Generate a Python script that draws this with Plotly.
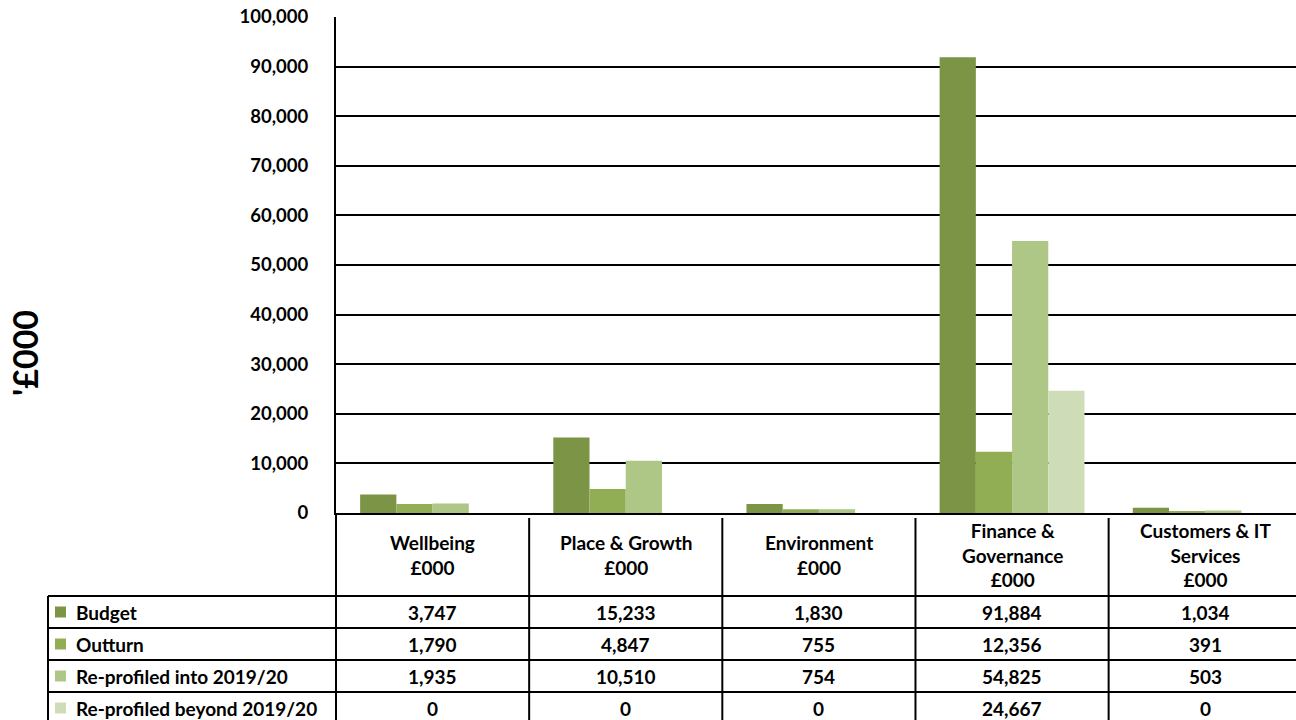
import plotly.graph_objects as go

# chart data
categories = ["Wellbeing", "Place & Growth", "Environment",
              "Finance & Governance", "Customers & IT Services"]
header_labels = ["Wellbeing<br>£000", "Place & Growth<br>£000", "Environment<br>£000",
                 "Finance &<br>Governance<br>£000", "Customers & IT<br>Services<br>£000"]
series_names = ["Budget", "Outturn", "Re-profiled into 2019/20", "Re-profiled beyond 2019/20"]
budget = [3747, 15233, 1830, 91884, 1034]
outturn = [1790, 4847, 755, 12356, 391]
reprofiled_into = [1935, 10510, 754, 54825, 503]
reprofiled_beyond = [0, 0, 0, 24667, 0]
series_values = [budget, outturn, reprofiled_into, reprofiled_beyond]
colors = ["#7b9445", "#92ae55", "#aec686", "#cfdcb8"]

FONT = "Lato"
W, H = 1296, 720
L, T, B = 336, 17, 207
x_range = [-0.5, 4.47]
plot_h = H - T - B
plot_w = W - L


def py(pix):
    # pixel row -> paper y
    return (H - B - pix) / plot_h


def px(pix):
    # pixel column -> paper x
    return (pix - L) / plot_w


def cx(v):
    # category position -> paper x
    return (v - x_range[0]) / (x_range[1] - x_range[0])


fig = go.Figure()

for name, vals, col in zip(series_names, series_values, colors):
    fig.add_trace(
        go.Bar(
            x=categories,
            y=vals,
            name=name,
            marker=dict(color=col, line=dict(width=0)),
        )
    )

shapes = []
line = dict(color="black", width=2)
bottom = py(730)

# table grid
row_tops = [596, 628, 660, 692]
for r in row_tops:
    shapes.append(dict(type="line", xref="paper", yref="paper",
                       x0=px(48), x1=1.02, y0=py(r), y1=py(r), line=line))
shapes.append(dict(type="line", xref="paper", yref="paper",
                   x0=px(48), x1=px(48), y0=py(596), y1=bottom, line=line))
shapes.append(dict(type="line", xref="paper", yref="paper",
                   x0=0, x1=0, y0=0, y1=bottom, line=line))
for i in range(1, len(categories)):
    xp = cx(i - 0.5)
    shapes.append(dict(type="line", xref="paper", yref="paper",
                       x0=xp, x1=xp, y0=py(518), y1=bottom, line=line))

annotations = []
tfont = dict(family=FONT, size=19, color="black", weight="bold")

# header row
for i, lab in enumerate(header_labels):
    annotations.append(dict(x=cx(i), y=py(554.5), xref="paper", yref="paper",
                            text=lab, showarrow=False, font=tfont,
                            xanchor="center", yanchor="middle"))

# data rows with legend keys
for k, (name, vals, col) in enumerate(zip(series_names, series_values, colors)):
    yc = py(row_tops[k] + 16)
    shapes.append(dict(type="rect", xref="paper", yref="paper",
                       x0=px(55), x1=px(66), y0=yc - 5.5 / plot_h, y1=yc + 5.5 / plot_h,
                       fillcolor=col, line=dict(width=0)))
    annotations.append(dict(x=px(74), y=yc, xref="paper", yref="paper",
                            text=name, showarrow=False, font=tfont,
                            xanchor="left", yanchor="middle"))
    for i, v in enumerate(vals):
        annotations.append(dict(x=cx(i), y=yc, xref="paper", yref="paper",
                                text=f"{v:,}", showarrow=False, font=tfont,
                                xanchor="center", yanchor="middle"))

# y axis title
annotations.append(dict(x=px(24), y=py(353), xref="paper", yref="paper",
                        text="'£000", textangle=-90, showarrow=False,
                        font=dict(family=FONT, size=34, color="black", weight="bold"),
                        xanchor="center", yanchor="middle"))

fig.update_layout(
    width=W,
    height=H,
    margin=dict(l=L, r=0, t=T, b=B),
    barmode="group",
    bargap=0.25,
    bargroupgap=0,
    showlegend=False,
    plot_bgcolor="white",
    paper_bgcolor="white",
    shapes=shapes,
    annotations=annotations,
    xaxis=dict(
        range=x_range,
        showticklabels=False,
        showgrid=False,
        showline=True,
        linecolor="black",
        linewidth=2,
        ticks="",
    ),
    yaxis=dict(
        range=[0, 100000],
        dtick=10000,
        tickformat=",",
        showgrid=True,
        gridcolor="black",
        gridwidth=2,
        showline=True,
        linecolor="black",
        linewidth=2,
        zeroline=False,
        ticks="",
        ticklabelstandoff=22,
        tickfont=dict(family=FONT, size=18.5, color="black", weight="bold"),
    ),
)

# drop the default page margin so the figure sits at the window's corner
fig.write_html("out.html", config={"displayModeBar": False},
               post_script="document.body.style.margin='0';")
